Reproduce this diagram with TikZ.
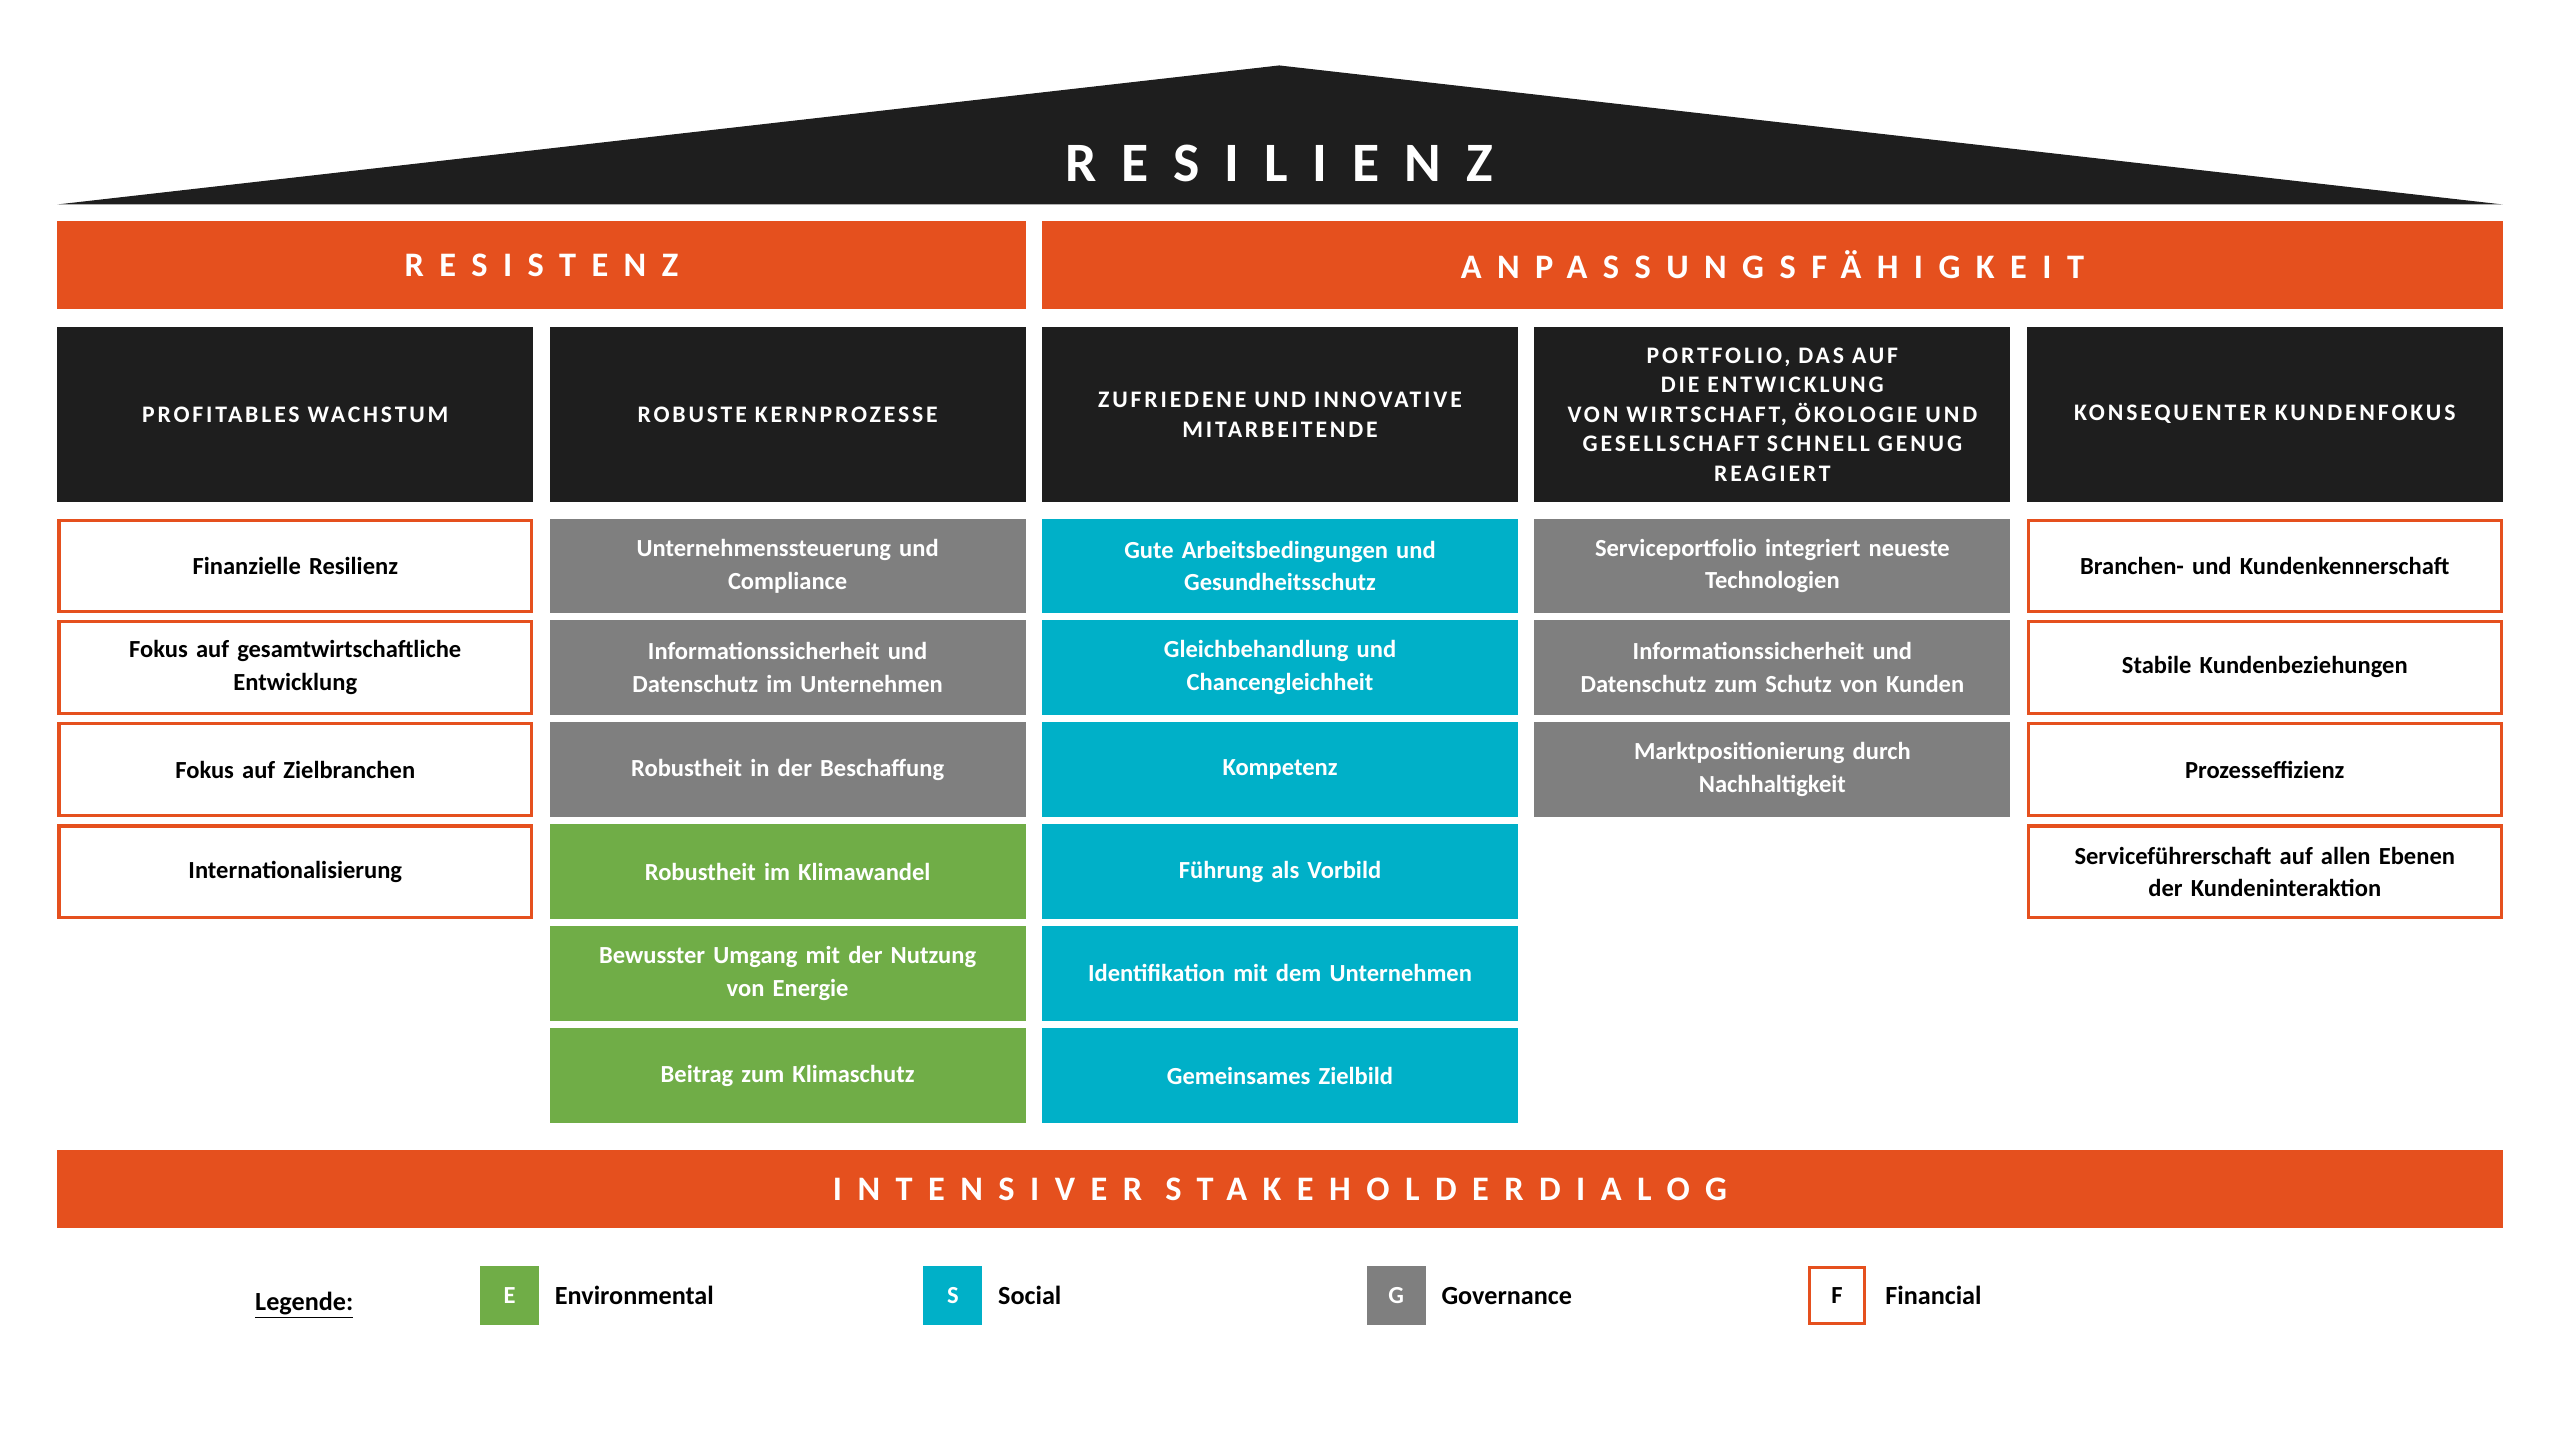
\documentclass[tikz,border=0pt]{standalone}
\usepackage{fontspec}
\setmainfont{Carlito}
\newfontfamily\spaced[LetterSpace=45]{Carlito}
\newfontfamily\wide[LetterSpace=12]{Carlito}
\definecolor{orangebar}{HTML}{E5501E}
\definecolor{darkhead}{HTML}{1E1E1E}
\definecolor{govgrey}{HTML}{7F7F7F}
\definecolor{socteal}{HTML}{00B0C8}
\definecolor{envgreen}{HTML}{70AD47}
\tikzset{
  cell/.style={minimum width=291pt,minimum height=58pt,text width=270pt,align=center,
    inner sep=0pt,font=\fontsize{15}{20}\selectfont\bfseries},
  fin/.style={cell,draw=orangebar,line width=2pt,fill=white,minimum width=289pt,minimum height=56pt},
  gov/.style={cell,fill=govgrey,text=white},
  soc/.style={cell,fill=socteal,text=white},
  env/.style={cell,fill=envgreen,text=white},
  head/.style={minimum width=291pt,minimum height=107pt,text width=280pt,align=center,
    inner sep=0pt,fill=darkhead,text=white,font=\fontsize{14.5}{18}\selectfont\wide\bfseries},
  bar/.style={fill=orangebar,text=white,inner sep=0pt,font=\fontsize{21}{24}\selectfont\spaced\bfseries},
  key/.style={minimum size=36pt,inner sep=0pt,text=white,font=\fontsize{15}{18}\selectfont\bfseries},
  keytext/.style={anchor=west,font=\fontsize{16}{18}\selectfont\bfseries}
}
\begin{document}
\begin{tikzpicture}[x=1pt,y=-1pt]
\useasboundingbox (0,0) rectangle (1565,880);
% Dach
\fill[darkhead] (35,125) -- (782,40) -- (1530,125) -- cycle;
\node[text=white,font=\fontsize{34}{36}\selectfont\spaced\bfseries] (resilienz) at (782,100) {RESILIENZ};
% Saeulen
\node[bar,minimum width=592pt,minimum height=54pt] (resistenz) at (331,162) {RESISTENZ};
\node[bar,minimum width=893pt,minimum height=54pt] (anpassung) at (1083.5,162) {ANPASSUNGSFÄHIGKEIT};
\node[head] (h1) at (180.5,253.5) {PROFITABLES WACHSTUM};
\node[head] (h2) at (481.5,253.5) {ROBUSTE KERNPROZESSE};
\node[head] (h3) at (782.5,253.5) {ZUFRIEDENE UND INNOVATIVE\\MITARBEITENDE};
\node[head] (h4) at (1083.5,253.5) {PORTFOLIO, DAS AUF DIE ENTWICKLUNG\\VON WIRTSCHAFT, ÖKOLOGIE UND\\GESELLSCHAFT SCHNELL GENUG\\REAGIERT};
\node[head] (h5) at (1384.5,253.5) {KONSEQUENTER KUNDENFOKUS};
% Profitables Wachstum
\node[fin] (a1) at (180.5,346) {Finanzielle Resilienz};
\node[fin] (a2) at (180.5,408) {Fokus auf gesamtwirtschaftliche\\Entwicklung};
\node[fin] (a3) at (180.5,470.5) {Fokus auf Zielbranchen};
\node[fin] (a4) at (180.5,533) {Internationalisierung};
% Kernprozesse
\node[gov] (b1) at (481.5,346) {Unternehmenssteuerung und\\Compliance};
\node[gov] (b2) at (481.5,408) {Informationssicherheit und\\Datenschutz im Unternehmen};
\node[gov] (b3) at (481.5,470.5) {Robustheit in der Beschaffung};
\node[env] (b4) at (481.5,533) {Robustheit im Klimawandel};
\node[env] (b5) at (481.5,595) {Bewusster Umgang mit der Nutzung\\von Energie};
\node[env] (b6) at (481.5,657.5) {Beitrag zum Klimaschutz};
% Mitarbeitende
\node[soc] (c1) at (782.5,346) {Gute Arbeitsbedingungen und\\Gesundheitsschutz};
\node[soc] (c2) at (782.5,408) {Gleichbehandlung und\\Chancengleichheit};
\node[soc] (c3) at (782.5,470.5) {Kompetenz};
\node[soc] (c4) at (782.5,533) {Führung als Vorbild};
\node[soc] (c5) at (782.5,595) {Identifikation mit dem Unternehmen};
\node[soc] (c6) at (782.5,657.5) {Gemeinsames Zielbild};
% Portfolio
\node[gov] (d1) at (1083.5,346) {Serviceportfolio integriert neueste\\Technologien};
\node[gov] (d2) at (1083.5,408) {Informationssicherheit und\\Datenschutz zum Schutz von Kunden};
\node[gov] (d3) at (1083.5,470.5) {Marktpositionierung durch\\Nachhaltigkeit};
% Kundenfokus
\node[fin] (e1) at (1384.5,346) {Branchen- und Kundenkennerschaft};
\node[fin] (e2) at (1384.5,408) {Stabile Kundenbeziehungen};
\node[fin] (e3) at (1384.5,470.5) {Prozesseffizienz};
\node[fin] (e4) at (1384.5,533) {Serviceführerschaft auf allen Ebenen\\der Kundeninteraktion};
% Fundament
\node[bar,minimum width=1495pt,minimum height=48pt] (dialog) at (782.5,727) {INTENSIVER STAKEHOLDERDIALOG};
% Legende
\node[font=\fontsize{16}{18}\selectfont\bfseries] (legende) at (186,798) {\underline{Legende:}};
\node[key,fill=envgreen] (ke) at (311.5,792) {E};
\node[keytext] (te) at (ke.east) [xshift=6pt] {Environmental};
\node[key,fill=socteal] (ks) at (582.5,792) {S};
\node[keytext] (ts) at (ks.east) [xshift=6pt] {Social};
\node[key,fill=govgrey] (kg) at (853.5,792) {G};
\node[keytext] (tg) at (kg.east) [xshift=6pt] {Governance};
\node[key,draw=orangebar,line width=2pt,text=black,minimum size=34pt] (kf) at (1123,792) {F};
\node[keytext] (tf) at (kf.east) [xshift=8pt] {Financial};
\end{tikzpicture}
\end{document}
